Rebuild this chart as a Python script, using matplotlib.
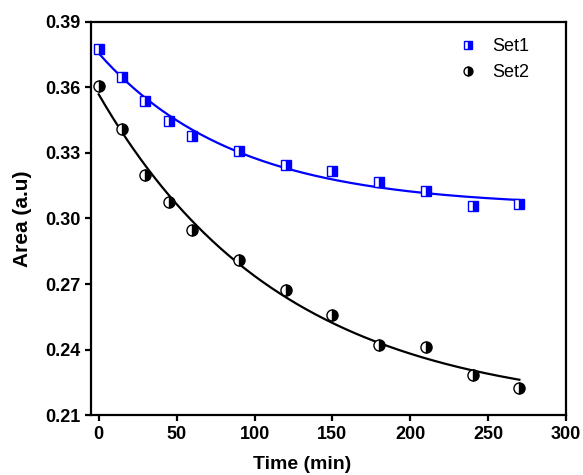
import numpy as np
import matplotlib
matplotlib.use("Agg")
import matplotlib.pyplot as plt

plt.rcParams['font.family'] = ['Liberation Sans', 'DejaVu Sans']

# Данни
time = [0, 15, 30, 45, 60, 90, 120, 150, 180, 210, 240, 270]
set1 = [0.3776, 0.3648, 0.3540, 0.3448, 0.3378, 0.3310, 0.3246, 0.3218, 0.3168, 0.3126, 0.3058, 0.3068]
set2 = [0.3605, 0.3408, 0.3200, 0.3075, 0.2948, 0.2810, 0.2672, 0.2558, 0.2420, 0.2410, 0.2282, 0.2222]


def exp_fit(x, y):
    # y = y0 + A*exp(-x/t), търсене по t, линейни МНК за y0 и A
    x = np.asarray(x, float)
    y = np.asarray(y, float)
    best = None
    for t in np.linspace(10, 500, 2000):
        M = np.column_stack([np.ones_like(x), np.exp(-x / t)])
        coef, *_ = np.linalg.lstsq(M, y, rcond=None)
        err = np.sum((M @ coef - y) ** 2)
        if best is None or err < best[0]:
            best = (err, coef, t)
    _, (y0, A), t = best
    return lambda xx: y0 + A * np.exp(-xx / t)


fig = plt.figure(figsize=(5.83, 4.75), dpi=100)
ax = fig.add_axes([0.156, 0.126, 0.815, 0.828])

xs = np.linspace(0, 270, 300)
ax.plot(xs, exp_fit(time, set1)(xs), color='#0000ff', lw=1.6)
ax.plot(xs, exp_fit(time, set2)(xs), color='black', lw=1.6)

ax.plot(time, set1, ls='none', marker='s', ms=7, fillstyle='right',
        color='#0000ff', markerfacecoloralt='white', mew=1.0, label='Set1')
ax.plot(time, set2, ls='none', marker='o', ms=8, fillstyle='right',
        color='black', markerfacecoloralt='white', mew=1.0, label='Set2')

ax.set_xlim(-5, 300)
ax.set_ylim(0.21, 0.39)
ax.set_xticks([0, 50, 100, 150, 200, 250, 300])
ax.set_yticks([0.21, 0.24, 0.27, 0.30, 0.33, 0.36, 0.39])
ax.set_yticklabels(['0.21', '0.24', '0.27', '0.30', '0.33', '0.36', '0.39'])

for s in ax.spines.values():
    s.set_linewidth(1.6)
ax.tick_params(direction='out', length=4.5, width=1.6, labelsize=13, pad=3,
               top=False, right=False)
for lab in ax.get_xticklabels() + ax.get_yticklabels():
    lab.set_fontweight('bold')

ax.set_xlabel('Time (min)', fontsize=14, fontweight='bold')
ax.set_ylabel('Area (a.u)', fontsize=15, fontweight='bold')
ax.xaxis.set_label_coords(0.444, -0.104)
ax.yaxis.set_label_coords(-0.124, 0.5)

ax.legend(loc='upper right', frameon=False, fontsize=13, handletextpad=0.7,
          borderaxespad=0.3, handlelength=1.2, markerscale=0.8,
          bbox_to_anchor=(0.948, 0.99))

fig.savefig('out.png', dpi=100)
